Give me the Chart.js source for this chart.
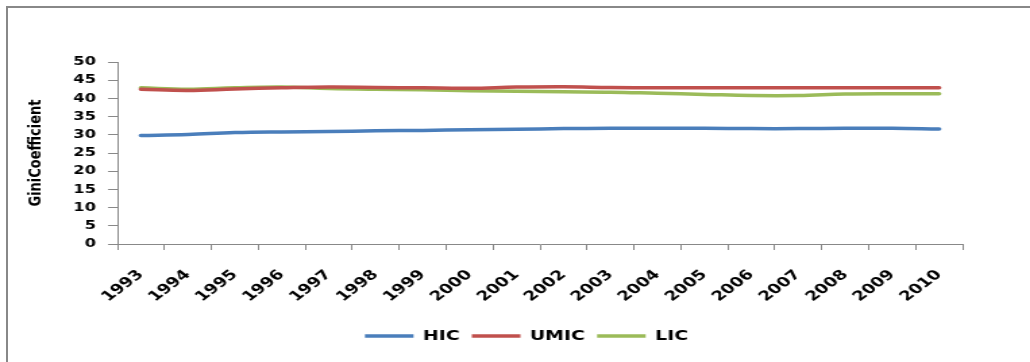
<!DOCTYPE html>
<html>
<head>
<meta charset="utf-8">
<script src="https://cdn.jsdelivr.net/npm/chart.js@4/dist/chart.umd.min.js"></script>
<style>
  html, body { margin: 0; padding: 0; background: #fff; }
  body { width: 1030px; height: 362px; overflow: hidden; position: relative; }
  #frame {
    position: absolute; left: 6px; top: 6px; width: 1040px; height: 380px;
    border-left: 2px solid #888; border-top: 2px solid #888; box-sizing: border-box;
  }
  /* the chart is laid out narrow and widened, giving the broad lettering */
  #wrap {
    position: absolute; left: 0; top: 0; width: 763px; height: 362px;
    transform: scaleX(1.35); transform-origin: 0 0;
  }
</style>
</head>
<body>
<div id="frame"></div>
<div id="wrap"><canvas id="chart" width="763" height="362"></canvas></div>
<script>
const years = ['1993','1994','1995','1996','1997','1998','1999','2000','2001','2002',
               '2003','2004','2005','2006','2007','2008','2009','2010'];
const hic  = [29.8, 30.1, 30.6, 30.8, 30.9, 31.1, 31.2, 31.4, 31.5, 31.7,
              31.8, 31.8, 31.8, 31.7, 31.7, 31.8, 31.8, 31.6];
const umic = [42.5, 42.2, 42.6, 42.9, 43.1, 43.0, 42.9, 42.8, 43.1, 43.2,
              43.0, 42.9, 42.9, 42.9, 42.9, 42.9, 42.9, 42.9];
const lic  = [42.9, 42.5, 42.9, 43.1, 42.7, 42.5, 42.4, 42.1, 41.95, 41.8,
              41.7, 41.4, 41.1, 40.8, 40.8, 41.2, 41.3, 41.3];
const yTicks = [0, 5, 10, 15, 20, 25, 30, 35, 40, 45, 50];

const FONT = 'DejaVu Sans';
const AXIS_GREY = '#888888';

function series(label, data, color) {
  return {
    label, data,
    borderColor: color, backgroundColor: color,
    borderWidth: 3.5, borderCapStyle: 'round', borderJoinStyle: 'round',
    pointRadius: 0, pointHoverRadius: 0, tension: 0.4, fill: false,
    pointStyle: 'line'
  };
}

// place the legend row a little left of the plot-area centre
const legendShift = {
  id: 'legendShift',
  afterLayout(chart) {
    const lg = chart.legend;
    if (!lg) return;
    const target = (chart.chartArea.left + chart.chartArea.right) / 2 - 10;
    const dx = target - (lg.left + lg.right) / 2;
    lg.left += dx;
    lg.right += dx;
  }
};

new Chart(document.getElementById('chart'), {
  type: 'line',
  data: {
    labels: years,
    datasets: [
      series('HIC', hic, '#4a7ebb'),
      series('UMIC', umic, '#c0504d'),
      series('LIC', lic, '#9bbb59')
    ]
  },
  plugins: [legendShift],
  options: {
    responsive: false,
    animation: false,
    events: [],
    layout: { padding: { left: 15, right: 50, top: 62, bottom: 9 } },
    scales: {
      x: {
        offset: true,
        grid: { offset: true, drawOnChartArea: false, drawTicks: true, tickLength: 6, color: AXIS_GREY, lineWidth: 1 },
        border: { color: AXIS_GREY, width: 1 },
        ticks: {
          color: '#000', padding: 17, minRotation: 45, maxRotation: 45, autoSkip: false,
          font: { family: FONT, weight: 'bold', size: 13.5 }
        },
        afterFit(s) { s.height = 76; }
      },
      y: {
        min: 0, max: 50,
        afterBuildTicks(s) { s.ticks = yTicks.map(v => ({ value: v })); },
        grid: { drawOnChartArea: false, drawTicks: true, tickLength: 7, color: AXIS_GREY, lineWidth: 1 },
        border: { color: AXIS_GREY, width: 1 },
        ticks: { color: '#000', padding: 9, font: { family: FONT, weight: 'bold', size: 12 } },
        title: {
          display: true, text: 'GiniCoefficient', color: '#000',
          font: { family: FONT, weight: 'bold', size: 13 },
          padding: { top: 4, bottom: 4 }
        },
        afterFit(s) { s.width = 72; }
      }
    },
    plugins: {
      tooltip: { enabled: false },
      legend: {
        position: 'bottom',
        labels: {
          usePointStyle: true, pointStyleWidth: 36, boxHeight: 14,
          padding: 9, color: '#000',
          font: { family: FONT, weight: 'bold', size: 14 }
        }
      }
    }
  }
});
</script>
</body>
</html>
